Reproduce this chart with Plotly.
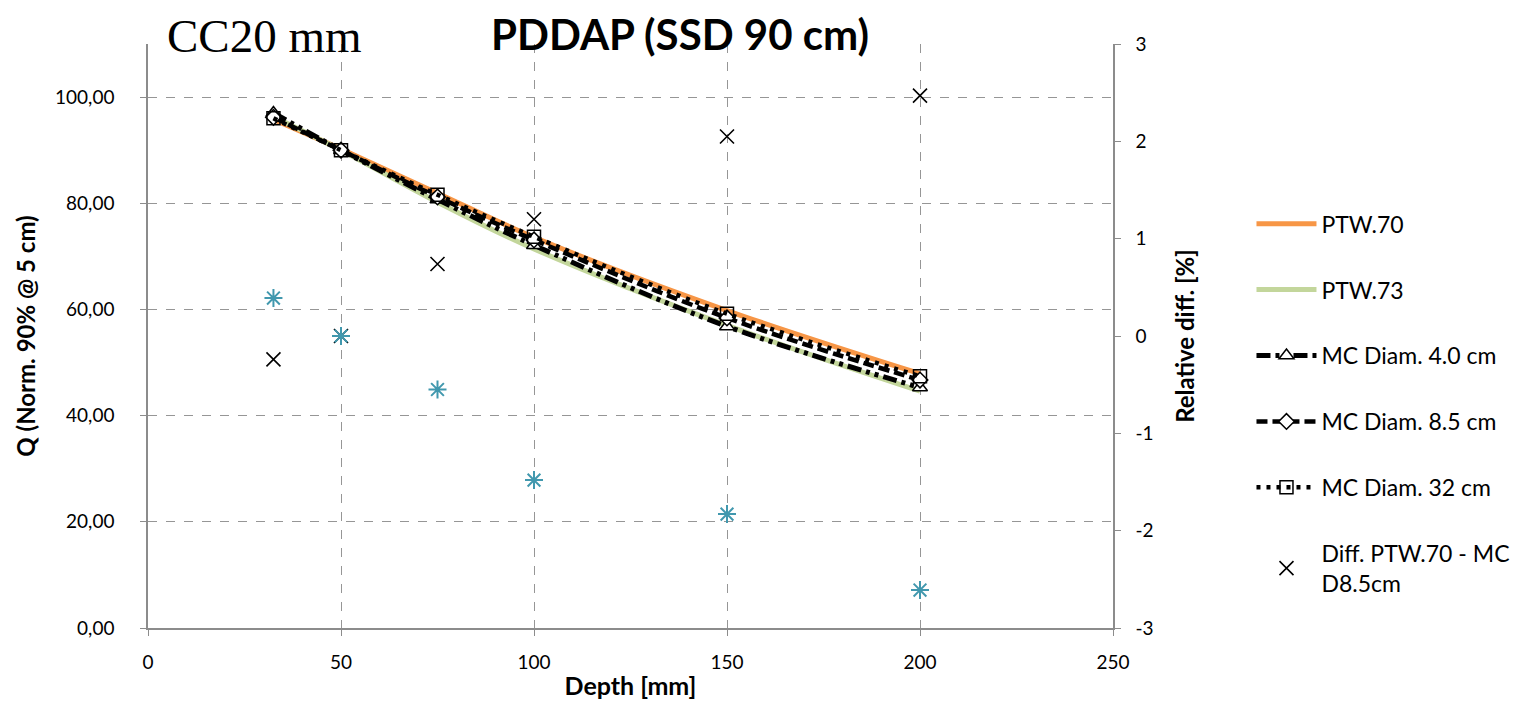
import plotly.graph_objects as go

# ---- data ----
depth = [32.5, 50, 75, 100, 150, 200]
ptw70 = [95.8, 90.2, 81.9, 73.6, 59.8, 47.9]
ptw73 = [96.3, 90.0, 80.2, 71.4, 57.0, 44.6]
mc_40 = [97.0, 90.0, 80.7, 72.1, 56.8, 45.3]
mc_85 = [96.2, 90.0, 81.2, 73.1, 58.4, 46.7]
mc_32 = [96.0, 90.0, 81.6, 73.7, 59.2, 47.4]
diff_70 = [-0.24, 0.0, 0.74, 1.20, 2.05, 2.47]
diff_73 = [0.39, 0.0, -0.55, -1.48, -1.83, -2.61]

x_ticks = [0, 50, 100, 150, 200, 250]
y_ticks = [0, 20, 40, 60, 80, 100]
y2_ticks = [-3, -2, -1, 0, 1, 2, 3]
y2_labels = ["-3", "-2", "-1", "0", "1", "2", "3"]

FONT = "Lato"
GRID = "#969696"
AX = "#8c8c8c"

fig = go.Figure()

fig.add_trace(go.Scatter(x=depth, y=ptw70, name="PTW.70", mode="lines",
                         line=dict(color="#F79646", width=5, shape="spline"),
                         legendgroup="a"))
fig.add_trace(go.Scatter(x=depth, y=ptw73, name="PTW.73", mode="lines",
                         line=dict(color="#C3D69B", width=5, shape="spline"),
                         legendgroup="b"))
fig.add_trace(go.Scatter(x=depth, y=mc_40, name="MC Diam. 4.0 cm", mode="lines+markers",
                         line=dict(color="black", width=5, dash="14px,5px,4px,5px,4px,5px", shape="spline"),
                         marker=dict(symbol="triangle-up", size=13, color="white",
                                     line=dict(color="black", width=1.5)),
                         legendgroup="c"))
fig.add_trace(go.Scatter(x=depth, y=mc_85, name="MC Diam. 8.5 cm", mode="lines+markers",
                         line=dict(color="black", width=4.5, dash="11px,5px", shape="spline"),
                         marker=dict(symbol="diamond", size=12, color="white",
                                     line=dict(color="black", width=1.5)),
                         legendgroup="d"))
fig.add_trace(go.Scatter(x=depth, y=mc_32, name="MC Diam. 32 cm", mode="lines+markers",
                         line=dict(color="black", width=4.5, dash="4px,6px", shape="spline"),
                         marker=dict(symbol="square", size=13, color="rgba(255,255,255,0)",
                                     line=dict(color="black", width=1.5)),
                         legendgroup="e"))
fig.add_trace(go.Scatter(x=depth, y=diff_70, name="Diff. PTW.70 - MC<br>D8.5cm", mode="markers",
                         yaxis="y2",
                         marker=dict(symbol="x-thin-open", size=14, color="black",
                                     line=dict(color="black", width=1.6)),
                         legendgroup="f"))
fig.add_trace(go.Scatter(x=depth, y=diff_73, name="Diff. PTW.73 - MC D8.5cm", mode="markers",
                         yaxis="y2", showlegend=False,
                         marker=dict(symbol="asterisk-open", size=15, color="#4198AE",
                                     line=dict(color="#4198AE", width=2))))

fig.update_layout(
    width=1503, height=692,
    margin=dict(l=140, r=398, t=36, b=72, autoexpand=False),
    paper_bgcolor="white", plot_bgcolor="white",
    separators=", ",
    font=dict(family=FONT, size=19, color="black"),
    showlegend=True,
    legend=dict(x=1.1435, y=0.729, xanchor="left", yanchor="top",
                font=dict(family=FONT, size=23), tracegroupgap=33,
                itemwidth=60, bgcolor="rgba(0,0,0,0)"),
    xaxis=dict(range=[0, 250], tickvals=x_ticks, showgrid=True, gridcolor=GRID,
               griddash="dash", gridwidth=1.3, showline=True, linecolor=AX, linewidth=1.5,
               ticks="outside", ticklen=6, tickcolor=AX, zeroline=False,
               ticklabelstandoff=10,
               tickfont=dict(family=FONT, size=19),
               title=dict(text="<b>Depth [mm]</b>", font=dict(family=FONT, size=25), standoff=17)),
    yaxis=dict(range=[0, 110], tickvals=y_ticks, tickformat=".2f", showgrid=True,
               gridcolor=GRID, griddash="dash", gridwidth=1.3, showline=True,
               linecolor=AX, linewidth=1.5, ticks="outside", ticklen=6, tickcolor=AX,
               zeroline=False, ticklabelstandoff=22, tickfont=dict(family=FONT, size=19),
               title=dict(text="<b>Q (Norm. 90% @ 5 cm)</b>", font=dict(family=FONT, size=24),
                          standoff=13)),
    yaxis2=dict(range=[-3, 3], tickvals=y2_ticks, ticktext=y2_labels, overlaying="y",
                side="right", showgrid=False, showline=True, linecolor=AX, linewidth=1.5,
                ticks="outside", ticklen=6, tickcolor=AX, zeroline=False,
                ticklabelstandoff=11, tickfont=dict(family=FONT, size=19),
                title=dict(text="<b>Relative diff. [%]</b>", font=dict(family=FONT, size=24),
                           standoff=25)),
    title=dict(text="<b>PDDAP (SSD 90 cm)</b>", x=0.4471, xanchor="center",
               y=0.961, yanchor="middle", font=dict(family=FONT, size=42)),
    annotations=[dict(text="CC20 mm", xref="paper", yref="paper", x=0.0176, y=1.0616,
                      xanchor="left", yanchor="top", showarrow=False,
                      font=dict(family="Liberation Serif", size=47, color="black"))],
)

fig.write_html("out.html")
